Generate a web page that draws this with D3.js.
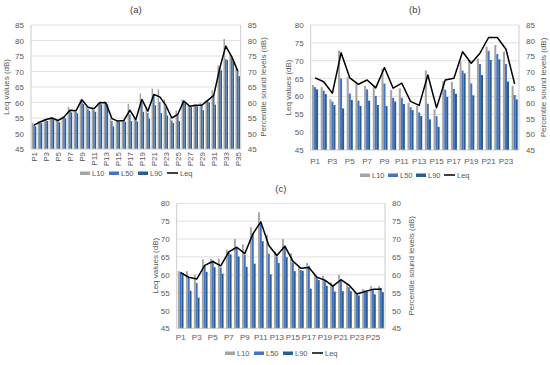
<!DOCTYPE html>
<html><head><meta charset="utf-8">
<script src="https://cdn.jsdelivr.net/npm/d3@7"></script>
<style>
body{margin:0;background:#fff}
text{font-family:"Liberation Sans",Arial,sans-serif;fill:#595959}
</style>
</head><body>
<svg id="chart" width="550" height="365"></svg>
<script>
// ---------- DATA ----------
const seriesNames = ["L10","L50","L90","Leq"];

const catsA = ["P1","P2","P3","P4","P5","P6","P7","P8","P9","P10","P11","P12","P13","P14","P15","P16","P17","P18","P19","P20","P21","P22","P23","P24","P25","P26","P27","P28","P29","P30","P31","P32","P33","P34","P35"];
const l10A = [53.5,53.9,54.6,55.1,54.5,55.5,58.6,57.5,61,59.1,58,60,60.5,54.8,54.2,54.4,59.6,55.1,62.9,58.6,64.5,64.2,61,55.1,57.5,61,59.1,59.4,59.9,60.7,64,72,80.5,75.5,71];
const l50A = [52.8,53.7,54.3,54.9,54,55.2,57.3,57,60.5,58,57.5,59.8,59.8,54,54,54.2,56.2,54.3,60,56.6,62.3,60.2,58.6,54.2,55.9,60.4,58.8,59,59.4,60.4,62.3,71.3,74,74.3,70.3];
const l90A = [52.3,53.3,54,54.6,53.6,54.9,56.8,56.5,59.5,57.3,57,59.4,59.3,52.3,53.7,53.8,54,53.9,57,54.8,59.1,56.6,55.8,53.4,54,59.8,58.5,58.8,57.5,60,59.3,70.4,73.7,73.3,68.5];
const leqA = [52.7,53.7,54.5,55,54.2,55.3,57.5,57.3,60.9,58.5,58,60,59.9,54.8,54,54.2,57.5,54.5,61,57.2,62.6,61.8,59.1,55,56.2,60.5,58.8,59.1,59.1,60.7,62.3,71,78.2,74.8,70.2];

const catsB = ["P1","P2","P3","P4","P5","P6","P7","P8","P9","P10","P11","P12","P13","P14","P15","P16","P17","P18","P19","P20","P21","P22","P23","P24"];
const l10B = [65.8,65.1,61.3,76.8,68.3,66.1,65.5,65.1,71.1,64.2,64.7,60.1,59.1,70.5,58,67.1,66.8,73.3,73.8,74.3,78.1,78.6,76.5,65.5];
const l50B = [65.1,64,60.5,67.9,63.1,60.8,64.4,62.3,66.3,61.7,61.7,58.7,57,59.8,55.8,64.3,64.5,70.4,66.3,72.5,76.7,75.7,72.5,62.6];
const l90B = [64.4,62.9,59.4,58.3,61,59.1,60.8,59.4,59.1,60.5,59.7,57.8,55.9,54.8,52.4,62,63,69.5,62.5,69,73.8,74,66.9,61.2];
const leqB = [65.2,64.1,60.9,72.2,65.2,63.4,64.6,62.4,68.1,62.3,63.7,58.6,57.5,66,56.8,64.6,65.1,72.5,69.3,72.1,76.5,76.5,73.2,63.5];

const catsC = ["P1","P2","P3","P4","P5","P6","P7","P8","P9","P10","P11","P12","P13","P14","P15","P16","P17","P18","P19","P20","P21","P22","P23","P24","P25","P26"];
const l10C = [61,61,60,64.3,64.5,64.5,67,70,68.5,73.3,77.5,71.2,66.5,70,66,62.5,63.3,60,59.7,57.8,60,57.5,55,56,56.8,56.8];
const l50C = [60.8,59.3,57.7,62.5,64,62,66.3,67.7,65.5,71.5,74.5,65.9,65.1,67.6,63.4,61.3,62.5,59,58.5,56.8,58.5,56.5,54.5,55.3,55.8,56.3];
const l90C = [60.5,55.5,53.6,60.8,62.1,60.3,65.7,65.1,62.2,63.1,69.4,60.1,63.3,64.9,61,61.1,56.1,58.5,56.9,55.3,55.4,55.4,54.2,55.2,54.5,55.1];
const leqC = [60.6,59.3,58.8,62.6,63.7,62.5,66.4,67.7,65.9,71.4,74.8,68.2,65.4,68,63.8,61.8,62,59.3,58.5,56.8,58.6,57.1,54.6,55.3,55.9,55.9];

const ticksA = [45,50,55,60,65,70,75,80,85];
const ticksB_left = [45,50,55,60,65,70,75,80];
const ticksB_right = [45,50,55,60,65,70,75,80,85];
const ticksC = [45,50,55,60,65,70,75,80];

const panelTitles = ["(a)","(b)","(c)"];
const leftTitle = "Leq values (dB)";
const rightTitle = "Percentile sound levels (dB)";

// ---------- STYLE ----------
const colors = {L10:"#a5a5a5", L50:"#4472c4", L90:"#255e91", Leq:"#000000"};
const FS = "8px";
const svg = d3.select("#chart");

function drawPanel(cfg){
  const g = svg.append("g");
  const x = d3.scaleBand().domain(cfg.cats).range([cfg.x0, cfg.x1]).paddingInner(cfg.pad).paddingOuter(cfg.pad/2);
  const xs = d3.scaleBand().domain(["L10","L50","L90"]).range([0, x.bandwidth()]).padding(0);
  const yL = d3.scaleLinear().domain([cfg.leftTicks[0], cfg.leftTicks[cfg.leftTicks.length-1]]).range([cfg.y1, cfg.y0]);
  const yR = d3.scaleLinear().domain([cfg.rightTicks[0], cfg.rightTicks[cfg.rightTicks.length-1]]).range([cfg.y1, cfg.y0]);

  // gridlines
  g.append("g").selectAll("line").data(cfg.leftTicks.slice(1)).join("line")
    .attr("x1", cfg.x0).attr("x2", cfg.x1)
    .attr("y1", d=>yL(d)).attr("y2", d=>yL(d))
    .attr("stroke", "#d9d9d9").attr("stroke-width", 0.8);

  // bars (percentiles on right axis)
  const rows = cfg.cats.map((c,i)=>({c, L10:cfg.l10[i], L50:cfg.l50[i], L90:cfg.l90[i]}));
  ["L10","L50","L90"].forEach(s=>{
    g.append("g").selectAll("rect").data(rows).join("rect")
      .attr("x", d=>x(d.c)+xs(s))
      .attr("width", xs.bandwidth())
      .attr("y", d=>yR(d[s]))
      .attr("height", d=>yR(cfg.rightTicks[0]) - yR(d[s]))
      .attr("fill", colors[s]);
  });

  // axes lines
  g.append("line").attr("x1",cfg.x0).attr("x2",cfg.x1).attr("y1",cfg.y1).attr("y2",cfg.y1).attr("stroke","#bfbfbf").attr("stroke-width",0.8);
  g.append("line").attr("x1",cfg.x0).attr("x2",cfg.x0).attr("y1",cfg.y0).attr("y2",cfg.y1).attr("stroke","#bfbfbf").attr("stroke-width",0.8);
  g.append("line").attr("x1",cfg.x1).attr("x2",cfg.x1).attr("y1",cfg.y0).attr("y2",cfg.y1).attr("stroke","#bfbfbf").attr("stroke-width",0.8);

  // Leq line (left axis)
  const line = d3.line().x((d,i)=>x(cfg.cats[i])+x.bandwidth()/2).y(d=>yL(d));
  g.append("path").datum(cfg.leq).attr("d", line).attr("fill","none")
    .attr("stroke", colors.Leq).attr("stroke-width", 1.5).attr("stroke-linejoin","round");

  // left axis
  const ax = g.append("g").attr("transform",`translate(${cfg.x0},0)`)
    .call(d3.axisLeft(yL).tickValues(cfg.leftTicks).tickSize(0).tickPadding(7));
  ax.select(".domain").remove();
  ax.selectAll("text").style("font-size",FS).style("font-family","Liberation Sans, Arial").attr("fill","#595959");
  // right axis
  const ar = g.append("g").attr("transform",`translate(${cfg.x1},0)`)
    .call(d3.axisRight(yR).tickValues(cfg.rightTicks).tickSize(0).tickPadding(7));
  ar.select(".domain").remove();
  ar.selectAll("text").style("font-size",FS).style("font-family","Liberation Sans, Arial").attr("fill","#595959");

  // x axis
  const axb = g.append("g").attr("transform",`translate(0,${cfg.y1})`)
    .call(d3.axisBottom(x).tickSize(0).tickPadding(cfg.xPad).tickFormat((d,i)=> i%2===0 ? d : ""));
  axb.select(".domain").remove();
  axb.selectAll("text").style("font-size",FS).style("font-family","Liberation Sans, Arial").attr("fill","#595959");
  if(cfg.rotate){
    axb.selectAll("text").attr("transform","rotate(-90)").attr("text-anchor","end")
      .attr("x",-3).attr("y",0).attr("dy","0.35em");
  }

  // titles
  g.append("text").attr("x",(cfg.x0+cfg.x1)/2).attr("y",cfg.titleY).attr("text-anchor","middle")
    .style("font-size","9.5px").style("fill","#404040").text(cfg.title);
  const cy = (cfg.y0+cfg.y1)/2;
  g.append("text").attr("transform",`translate(${cfg.ltx},${cy}) rotate(-90)`).attr("text-anchor","middle")
    .attr("dy","0.35em").style("font-size",FS).text(leftTitle);
  g.append("text").attr("transform",`translate(${cfg.rtx},${cy}) rotate(-90)`).attr("text-anchor","middle")
    .attr("dy","0.35em").style("font-size",FS).text(rightTitle);

  // legend
  const lg = g.append("g").attr("transform",`translate(${cfg.legX},${cfg.legY})`);
  seriesNames.forEach((s,i)=>{
    const ox = i*cfg.legStep;
    if(s==="Leq"){
      lg.append("line").attr("x1",ox).attr("x2",ox+11).attr("y1",0).attr("y2",0).attr("stroke","#000").attr("stroke-width",1.5);
      lg.append("text").attr("x",ox+13).attr("y",0).attr("dy","0.35em").style("font-size","7.5px").text(s);
    } else {
      lg.append("rect").attr("x",ox).attr("y",-1.5).attr("width",10).attr("height",3.5).attr("fill",colors[s]);
      lg.append("text").attr("x",ox+12).attr("y",0).attr("dy","0.35em").style("font-size","7.5px").text(s);
    }
  });
}

drawPanel({title:panelTitles[0], cats:catsA, l10:l10A, l50:l50A, l90:l90A, leq:leqA,
  x0:31, x1:240.7, y0:25, y1:149, leftTicks:ticksA, rightTicks:ticksA, pad:0.25,
  rotate:true, xPad:3, titleY:13, ltx:6, rtx:263, legX:80, legY:173, legStep:29});
drawPanel({title:panelTitles[1], cats:catsB, l10:l10B, l50:l50B, l90:l90B, leq:leqB,
  x0:310.7, x1:519, y0:25, y1:150, leftTicks:ticksB_left, rightTicks:ticksB_right, pad:0.3,
  rotate:false, xPad:8, titleY:13, ltx:288, rtx:543, legX:360, legY:175, legStep:28});
drawPanel({title:panelTitles[2], cats:catsC, l10:l10C, l50:l50C, l90:l90C, leq:leqC,
  x0:176.7, x1:385, y0:203.3, y1:328.3, leftTicks:ticksC, rightTicks:ticksC, pad:0.3,
  rotate:false, xPad:6, titleY:192, ltx:155, rtx:411, legX:225, legY:353, legStep:29});
</script>
</body></html>
